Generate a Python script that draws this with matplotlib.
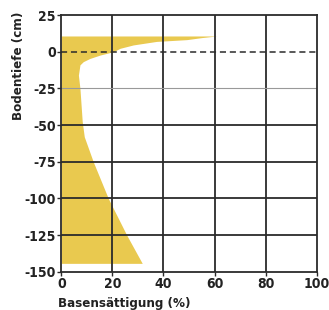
import matplotlib
matplotlib.use("Agg")
import matplotlib.pyplot as plt

depth = [10.7, 9.6, 8.2, 7.0, 4.6, 2.3, 0, -2.3, -4.6, -6.8, -9, -16, -25, -47.7, -58, -75, -100, -125, -144.3]
base_sat = [60.9, 55, 49.1, 37.3, 28.2, 23, 20.4, 15.2, 11.2, 8.6, 7.3, 6.7, 7.3, 8.2, 9.0, 12.5, 18.4, 25.6, 31.7]
xticks = [0, 20, 40, 60, 80, 100]
yticks = [25, 0, -25, -50, -75, -100, -125, -150]

plt.rcParams['font.family'] = ['DejaVu Sans']
fig = plt.figure(figsize=(3.29, 3.10), dpi=100)
ax = fig.add_axes([0.1863, 0.1235, 0.7763, 0.8281])

ax.fill_betweenx(depth, 0, base_sat, color='#E9C94F', lw=0, zorder=1)

for x in [20, 40, 60, 80]:
    ax.axvline(x, color='#2b2b2b', lw=1.3, zorder=2)
for y in [-50, -75, -100, -125]:
    ax.axhline(y, color='#2b2b2b', lw=1.3, zorder=2)
ax.axhline(-25, color='#999999', lw=0.8, zorder=2)
ax.axhline(0, color='#2b2b2b', lw=1.1, ls=(0, (4, 2.5)), zorder=2)

fp = dict(fontsize=10, fontweight='bold', color='#222222', fontstretch='condensed')
ax.set_xlim(0, 100)
ax.set_ylim(-150, 25)
ax.set_xticks(xticks)
ax.set_yticks(yticks)
ax.set_xticklabels([str(v) for v in xticks], **fp)
ax.set_yticklabels([str(v) for v in yticks], **fp)
ax.tick_params(length=3, width=1, color='#2b2b2b', pad=1)
for s in ax.spines.values():
    s.set_color('#2b2b2b')
    s.set_linewidth(1.3)
lp = dict(fontsize=9.5, fontweight='bold', color='#222222', fontstretch='condensed')
ax.set_xlabel('Basensättigung (%)', **lp)
ax.xaxis.set_label_coords(-0.012, -0.097)
ax.xaxis.label.set_ha('left')
ax.xaxis.label.set_va('top')
ax.set_ylabel('Bodentiefe (cm)', **lp)
ax.yaxis.set_label_coords(-0.166, 1.012)
ax.yaxis.label.set_rotation_mode('anchor')
ax.yaxis.label.set_ha('right')
ax.yaxis.label.set_va('center')

fig.savefig('out.png', dpi=100)
